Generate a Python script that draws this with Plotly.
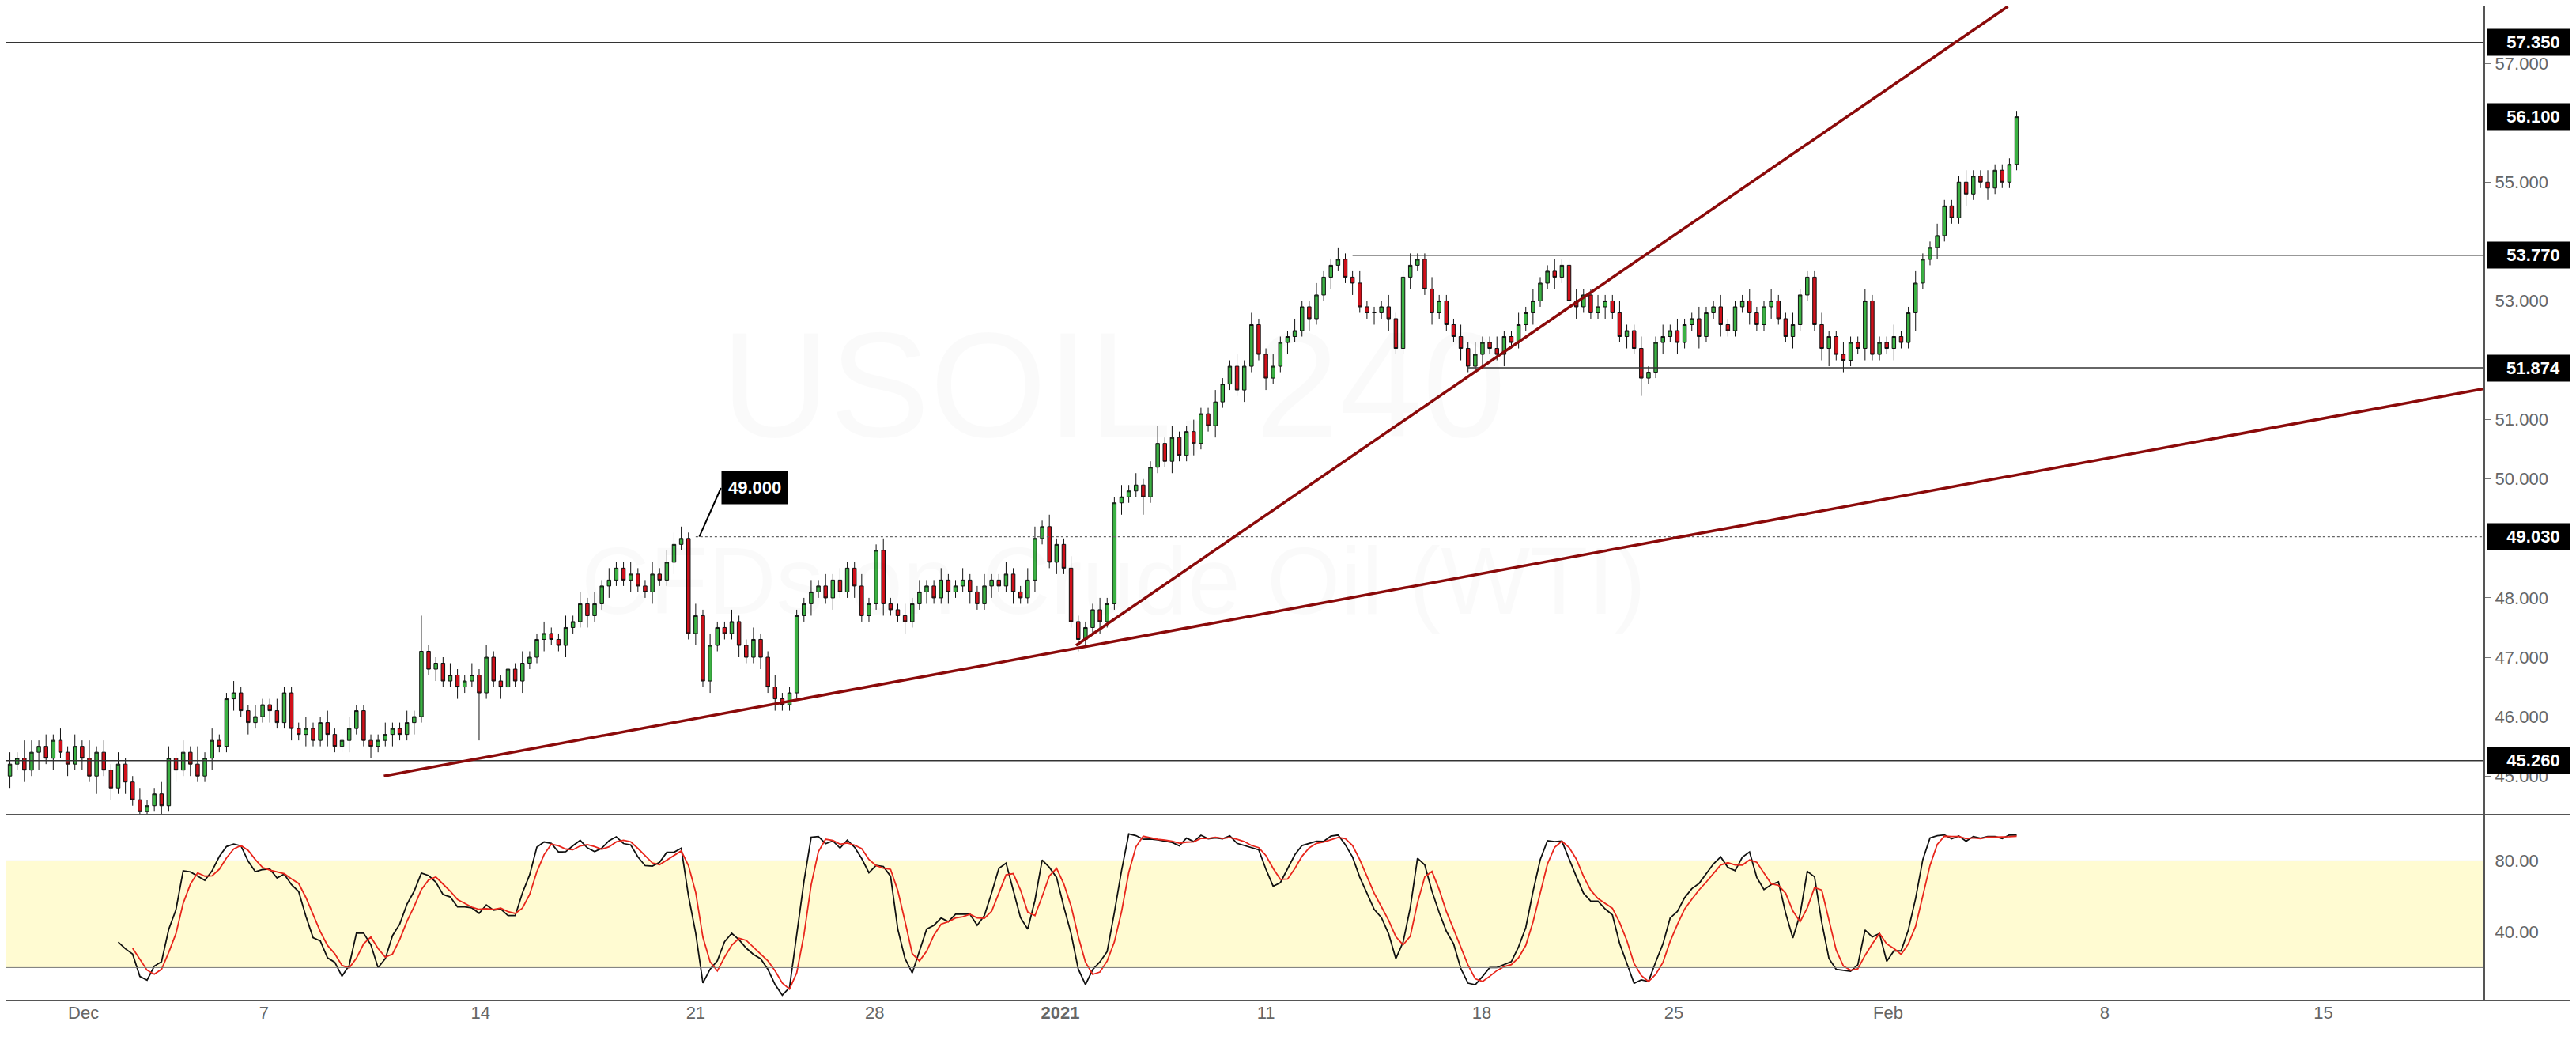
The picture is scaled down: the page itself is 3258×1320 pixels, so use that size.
import plotly.graph_objects as go
import numpy as np

closes = [45.2,45.3,45.1,45.4,45.5,45.3,45.6,45.4,45.2,45.5,
45.3,45.0,45.4,45.1,44.8,45.2,44.9,44.6,44.4,44.5,
44.7,44.5,45.3,45.1,45.4,45.2,45.0,45.3,45.6,45.5,
46.3,46.4,46.1,45.9,46.0,46.2,46.1,45.9,46.4,45.8,
45.7,45.8,45.6,45.9,45.7,45.5,45.6,45.8,46.1,45.6,
45.5,45.6,45.7,45.8,45.7,45.9,46.0,47.1,46.8,46.9,
46.6,46.7,46.5,46.6,46.7,46.4,47.0,46.6,46.5,46.8,
46.6,46.9,47.0,47.3,47.4,47.3,47.2,47.5,47.6,47.9,
47.7,47.9,48.2,48.3,48.5,48.3,48.4,48.2,48.1,48.4,
48.3,48.6,48.9,49.0,47.4,47.7,46.6,47.2,47.5,47.4,
47.6,47.2,47.0,47.3,47.0,46.5,46.3,46.2,46.4,47.7,
47.9,48.1,48.2,48.0,48.3,48.1,48.5,48.2,47.7,47.9,
48.8,47.9,47.8,47.7,47.6,47.9,48.1,48.2,48.0,48.3,
48.1,48.2,48.3,48.1,47.9,48.2,48.3,48.2,48.4,48.1,
48.0,48.3,49.0,49.2,48.6,48.9,48.5,47.6,47.3,47.5,
47.8,47.6,47.9,49.6,49.7,49.8,49.9,49.7,50.2,50.6,
50.3,50.7,50.4,50.8,50.6,51.1,50.9,51.3,51.6,51.9,
51.5,51.9,52.6,52.1,51.7,51.9,52.3,52.4,52.5,52.9,
52.7,53.1,53.4,53.6,53.7,53.4,53.3,52.9,52.8,52.8,
52.9,52.7,52.2,53.4,53.6,53.7,53.2,52.8,53.0,52.6,
52.4,52.2,51.9,52.1,52.3,52.2,52.1,52.4,52.3,52.6,
52.8,53.0,53.3,53.5,53.4,53.6,53.0,52.9,53.1,52.8,
52.9,53.0,52.8,52.4,52.5,52.2,51.7,51.8,52.3,52.4,
52.5,52.3,52.6,52.7,52.4,52.8,52.9,52.6,52.5,52.9,
53.0,52.8,52.6,52.9,53.0,52.7,52.4,52.6,53.1,53.4,
52.6,52.2,52.4,52.1,52.0,52.3,52.2,53.0,52.1,52.3,
52.2,52.4,52.3,52.8,53.3,53.7,53.9,54.1,54.6,54.4,
55.0,54.8,55.1,55.0,54.9,55.2,55.0,55.3,56.1]
first_open = 45.0
# wick sizes in tenths (upper / lower), read roughly
wick_up = [2,1,3,2,1,2,1,2,1,2, 1,3,1,2,1,2,1,1,2,1, 1,2,2,1,2,1,3,1,2,1, 1,2,1,1,2,1,1,2,1,1,
 1,2,1,1,2,1,1,2,1,1, 1,1,2,1,1,2,1,6,1,1, 1,2,1,1,2,1,2,1,1,2, 1,2,1,1,2,1,1,2,1,2,
 1,2,1,2,1,1,2,1,1,2, 1,2,2,2,1,2,1,2,1,1, 2,1,1,2,1,1,2,1,1,1, 1,2,1,2,1,2,1,1,2,1,
 1,2,1,1,2,1,2,1,1,2, 1,1,2,1,1,2,1,1,2,1, 1,2,2,1,2,1,1,2,1,1, 1,2,1,1,2,1,2,1,1,3,
 1,2,1,1,2,1,1,2,1,1, 2,1,2,1,1,2,1,1,2,1, 1,2,1,1,2,1,1,2,1,1, 1,2,1,1,2,1,1,2,1,1,
 1,2,1,2,1,1,2,1,1,2, 1,2,1,1,2,1,1,2,1,1, 2,1,1,2,1,1,2,1,1,2, 1,2,1,1,2,1,1,2,1,1,
 1,2,1,1,2,1,1,2,1,1, 1,2,1,1,2,1,1,2,1,1, 1,2,1,1,2,1,1,2,1,1, 1,2,1,1,2,1,1,1,1]
wick_dn = [2,1,2,1,3,1,2,1,2,1, 2,1,3,1,2,1,2,1,2,1, 1,2,1,2,1,2,1,1,2,1, 1,2,1,2,1,1,2,1,1,2,
 1,2,1,1,2,1,1,2,1,1, 2,1,1,2,1,1,2,1,1,2, 1,1,2,1,1,8,1,1,2,1, 1,2,1,1,2,1,1,2,1,1,
 2,1,1,2,1,1,2,1,1,2, 1,1,2,1,1,2,1,2,1,1, 1,2,1,1,2,1,2,1,1,1, 1,2,1,1,2,1,1,2,1,1,
 1,2,1,1,2,1,1,2,1,1, 2,1,1,2,1,1,2,1,1,2, 1,1,2,1,1,2,1,1,2,1, 1,2,1,1,2,1,1,3,1,1,
 1,2,1,1,2,1,1,2,1,1, 1,2,1,1,2,1,1,2,1,1, 2,1,1,2,1,1,2,1,1,2, 1,2,1,1,2,1,1,2,1,1,
 1,2,1,1,2,1,1,2,1,1, 1,2,1,1,2,1,1,2,1,1, 1,2,1,1,2,1,3,1,1,2, 1,2,1,1,2,1,1,2,1,1,
 1,2,1,1,2,1,1,2,1,1, 1,2,3,1,2,1,1,2,1,1, 1,2,1,1,3,1,1,2,1,1, 1,2,1,1,2,1,1,1,1]

date_ticks = [10.2, 35.2, 65.2, 95.0, 119.8, 145.5, 174.0, 203.9, 230.5, 260.2, 290.2, 320.5]
date_labels = ["Dec", "7", "14", "21", "28", "<b>2021</b>", "11", "18", "25", "Feb", "8", "15"]
price_ticks = [45, 46, 47, 48, 50, 51, 53, 55, 57]
price_marks = [57.35, 56.10, 53.77, 51.874, 49.03, 45.26]
stoch_ticks = [40, 80]
trend1 = ([51.8, 342.7], [45.0, 51.52])
trend2 = ([147.7, 276.8], [47.2, 57.96])

n = len(closes)
x = np.arange(n)
c = np.array(closes)
o = np.concatenate([[first_open], c[:-1]])
hi = np.maximum(o, c) + np.array(wick_up[:n]) / 10
lo = np.minimum(o, c) - np.array(wick_dn[:n]) / 10

# Stochastic (14,3,3)
k_raw = np.full(n, np.nan)
for i in range(13, n):
    hh, ll = hi[i-13:i+1].max(), lo[i-13:i+1].min()
    k_raw[i] = 100 * (c[i] - ll) / (hh - ll)
def sma(a, w):
    out = np.full(len(a), np.nan)
    for i in range(w-1, len(a)):
        out[i] = np.mean(a[i-w+1:i+1])
    return out
k = sma(k_raw, 3)
d = sma(k, 3)

XR = [-0.5, 342.7]
XD = [0, 0.9617]
fig = go.Figure()
fig.add_trace(go.Candlestick(x=x, open=o, high=hi, low=lo, close=c,
    increasing=dict(line=dict(color="#111", width=1), fillcolor="#3bb143"),
    decreasing=dict(line=dict(color="#111", width=1), fillcolor="#d0101a"),
    whiskerwidth=0, xaxis="x", yaxis="y", showlegend=False))
fig.add_trace(go.Scatter(x=x, y=k, mode="lines", line=dict(color="#111", width=1.8), xaxis="x2", yaxis="y2", showlegend=False))
fig.add_trace(go.Scatter(x=x, y=d, mode="lines", line=dict(color="#e8261c", width=1.8), xaxis="x2", yaxis="y2", showlegend=False))

shapes = []
def hline(y0, x0, yref="y", dash="solid", color="#333", w=1.5):
    shapes.append(dict(type="line", xref="x", yref=yref, x0=x0, x1=XR[1], y0=y0, y1=y0,
                       line=dict(color=color, width=w, dash=dash)))
hline(57.35, XR[0]); hline(45.26, XR[0])
hline(53.77, 186); hline(51.874, 202)
hline(49.03, 95, dash="dot", color="#666", w=1.2)
for tx, ty in (trend1, trend2):
    shapes.append(dict(type="line", xref="x", yref="y", x0=tx[0], x1=tx[1], y0=ty[0], y1=ty[1],
                       line=dict(color="#8b0a0a", width=3.5)))
shapes.append(dict(type="rect", xref="x2", yref="y2", x0=XR[0], x1=XR[1], y0=20, y1=80,
                   fillcolor="rgba(255,251,205,0.9)", line=dict(width=0), layer="below"))
for v in (20, 80):
    shapes.append(dict(type="line", xref="x2", yref="y2", x0=XR[0], x1=XR[1], y0=v, y1=v, line=dict(color="#777", width=1)))
for yy in (1 - 1022/1320, 1 - 1257/1320):
    shapes.append(dict(type="line", xref="paper", yref="paper", x0=0, x1=0.998, y0=yy, y1=yy, line=dict(color="#555", width=2)))
shapes.append(dict(type="line", xref="paper", yref="paper", x0=0.998, x1=0.998, y0=0, y1=1, line=dict(color="#555", width=2)))

ann = []
for v in price_marks:
    ann.append(dict(x=XD[1], xref="paper", y=v, yref="y", text=f"<b>{v:.3f}</b>", showarrow=False,
                    xanchor="left", xshift=4, bgcolor="#000", font=dict(color="#fff", size=22, family="Arial"),
                    borderpad=4, width=108))
ann.append(dict(x=95.5, y=49.03, xref="x", yref="y", ax=98.5, ay=49.85, axref="x", ayref="y",
                text="<b>49.000</b>", showarrow=True, arrowhead=0, arrowcolor="#000", arrowwidth=2,
                bgcolor="#000", font=dict(color="#fff", size=22, family="Arial"), borderpad=8, xanchor="left"))
ann.append(dict(x=0.43, y=0.72, xref="paper", yref="paper", text="USOIL, 240", showarrow=False,
                font=dict(size=190, color="rgba(0,0,0,0.02)", family="Arial")))
ann.append(dict(x=0.43, y=0.45, xref="paper", yref="paper", text="CFDs on Crude Oil (WTI)", showarrow=False,
                font=dict(size=120, color="rgba(0,0,0,0.02)", family="Arial")))

tickfont = dict(size=22, color="#666", family="Arial")
fig.update_layout(
    width=3258, height=1320, margin=dict(l=0, r=0, t=0, b=0),
    paper_bgcolor="#fff", plot_bgcolor="#fff", shapes=shapes, annotations=ann,
    xaxis=dict(domain=XD, range=XR, anchor="y", showticklabels=False, showgrid=False, zeroline=False, rangeslider=dict(visible=False)),
    xaxis2=dict(domain=XD, range=XR, anchor="y2", tickvals=date_ticks, ticktext=date_labels, showgrid=False,
                zeroline=False, tickfont=tickfont, ticks="", ticklen=0),
    yaxis=dict(domain=[1-1022/1320, 1], range=[44.35, 57.96], side="right", anchor="x", tickvals=price_ticks,
               ticktext=[f"{v:.3f}" for v in price_ticks], tickfont=tickfont, showgrid=False, zeroline=False,
               showline=True, linecolor="#555", linewidth=2, ticks="outside", ticklen=8, tickcolor="#777"),
    yaxis2=dict(domain=[1-1257/1320, 1-1022/1320], range=[1.5, 106], side="right", anchor="x2", tickvals=stoch_ticks,
                ticktext=["40.00", "80.00"], tickfont=tickfont, showgrid=False, zeroline=False,
                showline=True, linecolor="#555", linewidth=2, ticks="outside", ticklen=8, tickcolor="#777"),
)
fig.write_html("out.html")
